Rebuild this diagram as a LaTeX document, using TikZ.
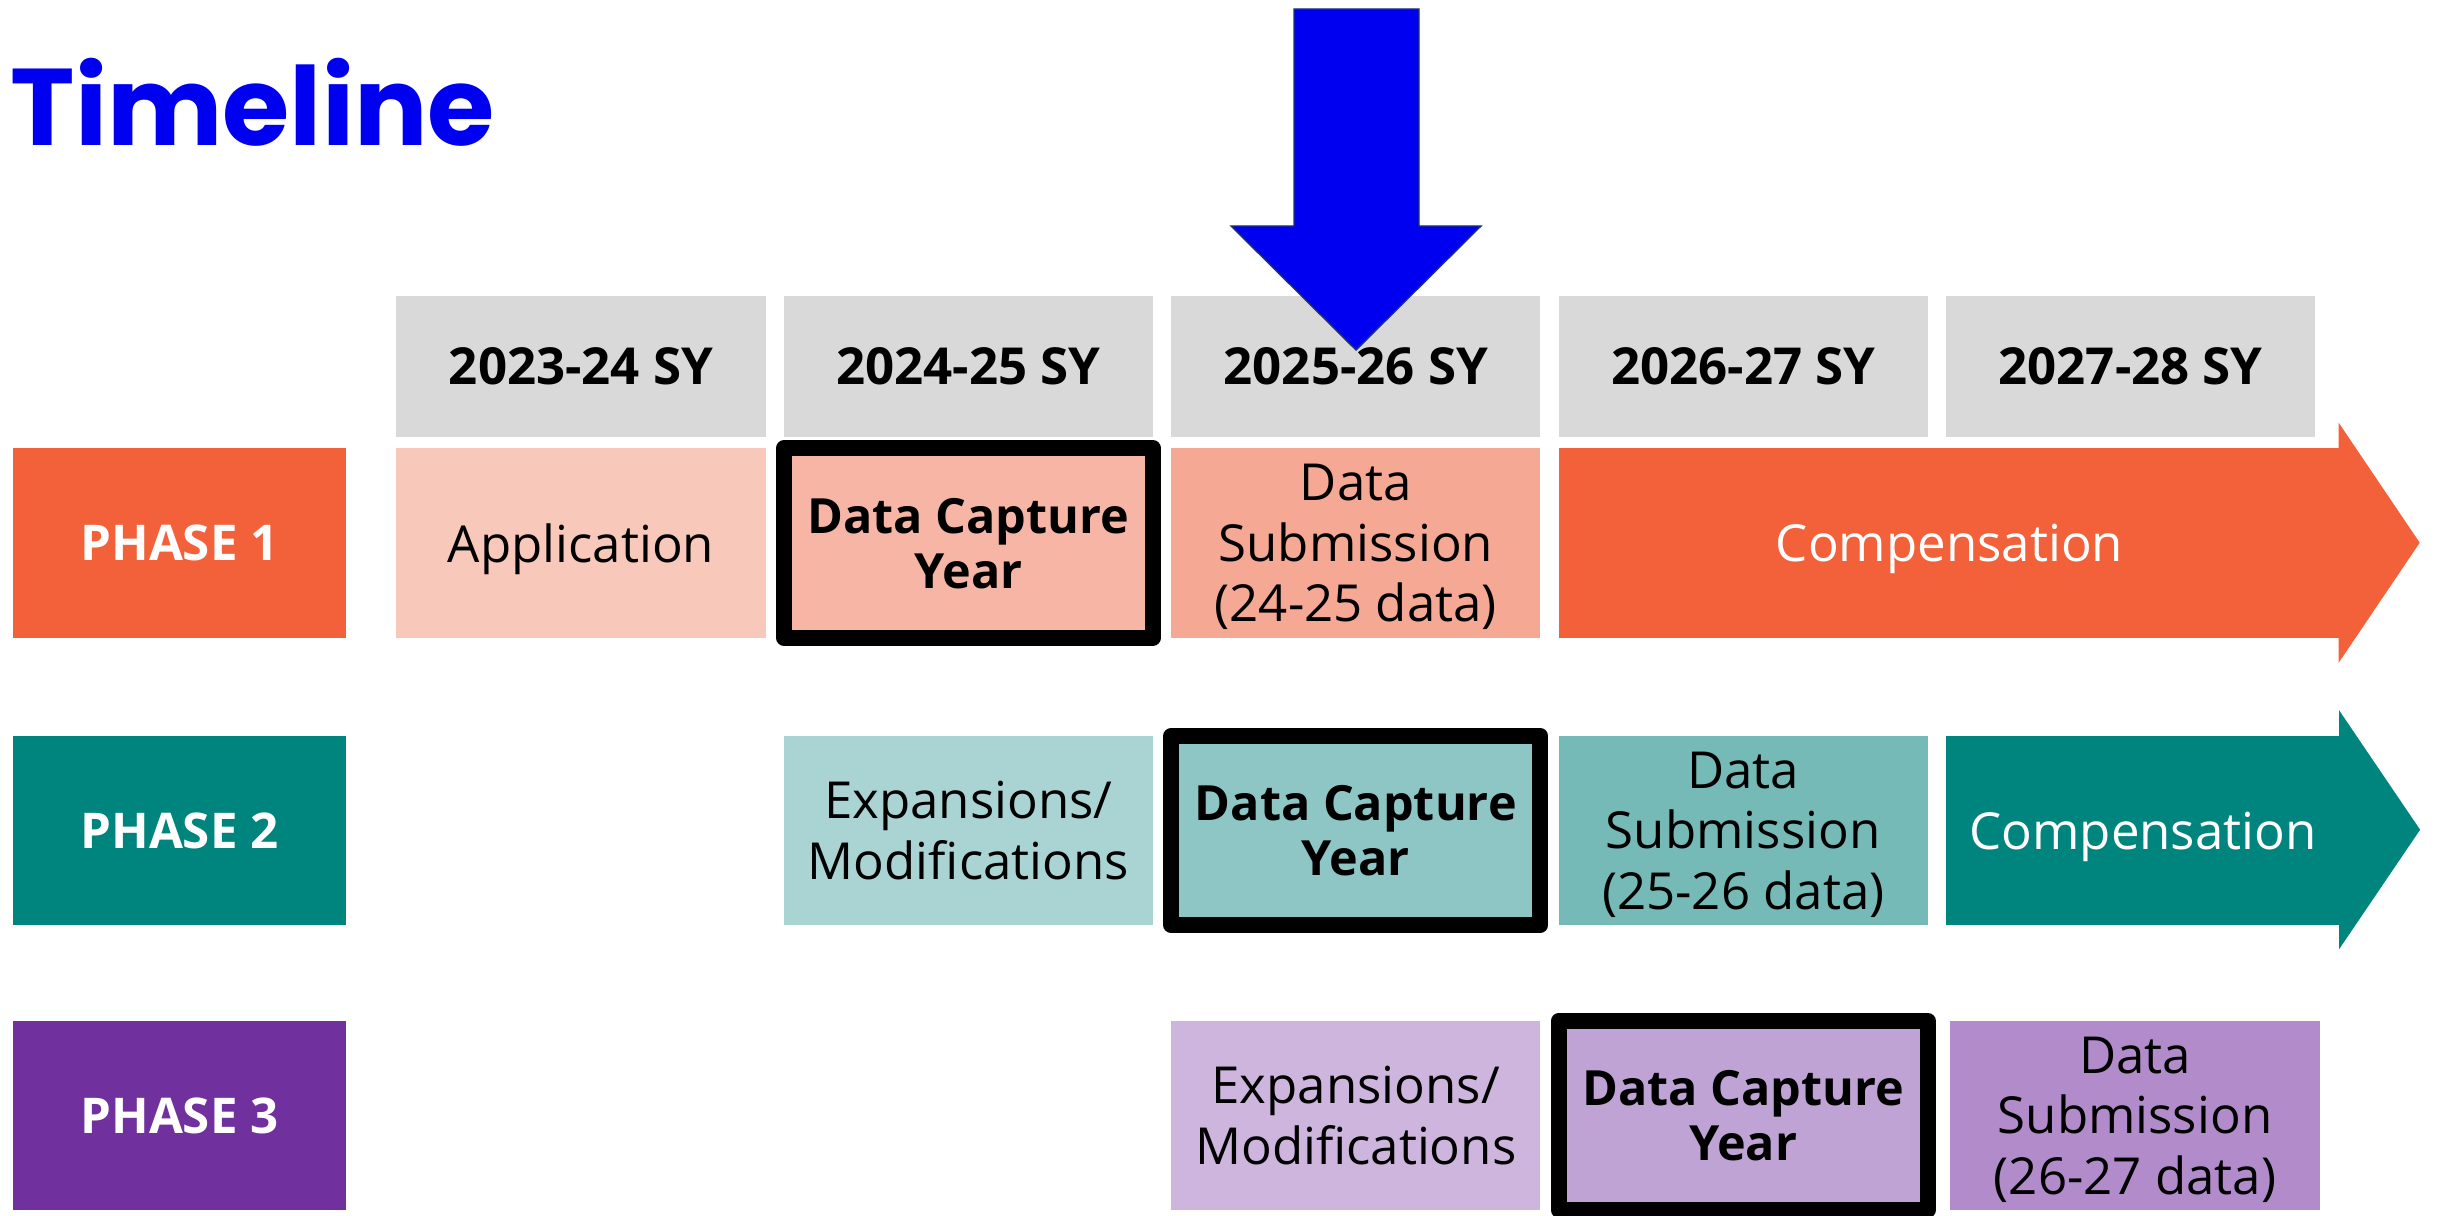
\documentclass[tikz,border=0pt]{standalone}
\usepackage{fontspec}
\setmainfont{Open Sans}
\newfontfamily\titlefont{Poppins}
\definecolor{titleblue}{RGB}{0,0,240}
\definecolor{arrowedge}{RGB}{30,50,120}
\definecolor{hdrgray}{RGB}{217,217,217}
\definecolor{oneMain}{RGB}{242,97,57}
\definecolor{oneApp}{RGB}{248,200,187}
\definecolor{oneCap}{RGB}{247,181,166}
\definecolor{oneSub}{RGB}{245,168,147}
\definecolor{twoMain}{RGB}{0,132,126}
\definecolor{twoExp}{RGB}{169,212,211}
\definecolor{twoCap}{RGB}{141,198,196}
\definecolor{twoSub}{RGB}{117,186,182}
\definecolor{threeMain}{RGB}{112,48,158}
\definecolor{threeExp}{RGB}{205,181,221}
\definecolor{threeCap}{RGB}{191,163,212}
\definecolor{threeSub}{RGB}{178,139,202}
\tikzset{
  cell/.style={minimum width=3.69cm, minimum height=1.89cm, inner sep=0pt, align=center,
    text depth=0pt, font=\fontsize{14.5}{17.2}\selectfont},
  yearbox/.style={cell, fill=hdrgray, minimum height=1.41cm, font=\fontsize{14.5}{17}\selectfont\bfseries},
  phasebox/.style={cell, minimum width=3.33cm, text=white, font=\fontsize{14}{17}\selectfont\bfseries},
  capturebox/.style={cell, draw=black, line width=0.16cm, line join=round,
    font=\fontsize{13.8}{15.6}\selectfont\bfseries},
}
\begin{document}
\begin{tikzpicture}[x=0.01cm,y=-0.01cm]
    \useasboundingbox (0,0) rectangle (2440,1216);
    \node[anchor=base west, text=titleblue, inner sep=0pt, font=\titlefont\bfseries\fontsize{31}{36}\selectfont] (title) at (10,146) {Timeline};
    % school years
    \foreach \yr [count=\i] in {2023-24,2024-25,2025-26,2026-27,2027-28} {
        \node[yearbox] (y\i) at ({581+387.4*(\i-1)},366.5) {\yr\ SY};
    }
    % current year marker
    \filldraw[fill=titleblue, draw=arrowedge, line width=0.4pt] (1294,9) -- (1419,9) -- (1419,226) -- (1481,226) -- (1356,350) -- (1231,226) -- (1294,226) -- cycle;
    % phase 1
    \node[phasebox, fill=oneMain] (p1) at (179.5,543) {PHASE 1};
    \node[cell, fill=oneApp] (app1) at (581,543) {Application};
    \node[capturebox, fill=oneCap] (cap1) at (968.4,543) {Data Capture\\Year};
    \node[cell, fill=oneSub] (sub1) at (1355.8,543) {Data\\Submission\\(24-25 data)};
    \node[cell, fill=oneMain, minimum width=7.8cm, text=white] (comp1) at (1949.5,543) {Compensation};
    \fill[oneMain] ([xshift=-0.5pt]comp1.north east) -- ++(0,-25) -- ++(81,120) -- ++(-81,120) -- ++(0,-25) -- cycle;
    % phase 2
    \node[phasebox, fill=twoMain] (p2) at (179.5,830.5) {PHASE 2};
    \node[cell, fill=twoExp] (exp2) at (968.4,830.5) {Expansions/\\Modifications};
    \node[capturebox, fill=twoCap] (cap2) at (1355.8,830.5) {Data Capture\\Year};
    \node[cell, fill=twoSub] (sub2) at (1743.2,830.5) {Data\\Submission\\(25-26 data)};
    \node[cell, fill=twoMain, minimum width=3.94cm, text=white] (comp2) at (2143,830.5) {Compensation};
    \fill[twoMain] ([xshift=-0.5pt]comp2.north east) -- ++(0,-25) -- ++(81,119.5) -- ++(-81,119.5) -- ++(0,-25) -- cycle;
    % phase 3
    \node[phasebox, fill=threeMain] (p3) at (179.5,1115.5) {PHASE 3};
    \node[cell, fill=threeExp] (exp3) at (1355.8,1115.5) {Expansions/\\Modifications};
    \node[capturebox, fill=threeCap] (cap3) at (1743.2,1115.5) {Data Capture\\Year};
    \node[cell, fill=threeSub] (sub3) at (2135,1115.5) {Data\\Submission\\(26-27 data)};
\end{tikzpicture}
\end{document}
